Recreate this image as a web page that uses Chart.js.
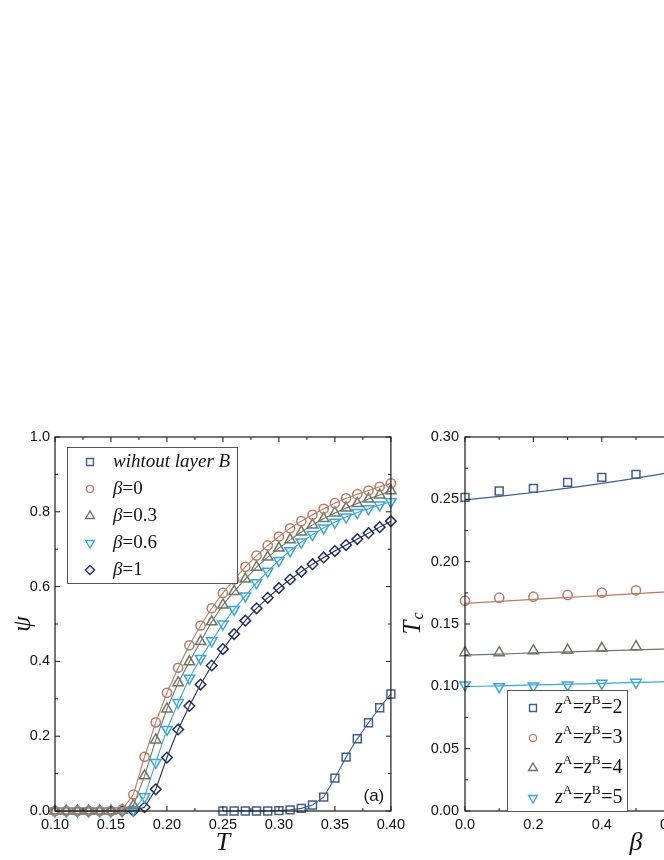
<!DOCTYPE html>
<html>
<head>
<meta charset="utf-8">
<script src="https://cdn.jsdelivr.net/npm/chart.js@4.4.0/dist/chart.umd.min.js"></script>
<style>
  html, body { margin: 0; padding: 0; background: #fff; overflow: hidden; }
  #wrap { position: relative; width: 664px; height: 860px; overflow: hidden; background: #fff; }
  #left { position: absolute; left: 0; top: 420px; }
  #right { position: absolute; left: 395px; top: 420px; }
</style>
</head>
<body>
<div id="wrap">
  <canvas id="left" width="410" height="440"></canvas>
  <canvas id="right" width="435" height="440"></canvas>
</div>
<script>
// ---- panel (a): order parameter psi vs temperature T ----
const temps = [0.10, 0.11, 0.12, 0.13, 0.14, 0.15, 0.16, 0.17, 0.18, 0.19, 0.20,
  0.21, 0.22, 0.23, 0.24, 0.25, 0.26, 0.27, 0.28, 0.29, 0.30,
  0.31, 0.32, 0.33, 0.34, 0.35, 0.36, 0.37, 0.38, 0.39, 0.40];
const tempsNoB = [0.25, 0.26, 0.27, 0.28, 0.29, 0.30, 0.31, 0.32,
  0.33, 0.34, 0.35, 0.36, 0.37, 0.38, 0.39, 0.40];

const psiNoB = [0, 0, 0, 0, 0, 0.001, 0.003, 0.007, 0.016, 0.037, 0.088, 0.144, 0.193, 0.236, 0.276, 0.313];
const psiBeta0 = [0, 0, 0, 0, 0, 0, 0.004, 0.044, 0.145, 0.237, 0.316,
  0.383, 0.443, 0.496, 0.542, 0.583, 0.619, 0.653, 0.683, 0.710, 0.734,
  0.756, 0.775, 0.792, 0.808, 0.823, 0.836, 0.847, 0.857, 0.867, 0.876];
const psiBeta03 = [0, 0, 0, 0, 0, 0, 0.002, 0.015, 0.094, 0.190, 0.273,
  0.343, 0.399, 0.453, 0.506, 0.551, 0.587, 0.620, 0.652, 0.679, 0.703,
  0.725, 0.746, 0.765, 0.782, 0.797, 0.810, 0.822, 0.834, 0.845, 0.856];
const psiBeta06 = [0, 0, 0, 0, 0, 0, 0, 0.003, 0.038, 0.130, 0.218,
  0.290, 0.355, 0.408, 0.455, 0.500, 0.539, 0.575, 0.610, 0.641, 0.670,
  0.696, 0.719, 0.739, 0.757, 0.772, 0.786, 0.798, 0.808, 0.818, 0.827];
const psiBeta1 = [0, 0, 0, 0, 0, 0, 0, 0, 0.010, 0.058, 0.143,
  0.218, 0.281, 0.338, 0.389, 0.433, 0.473, 0.509, 0.542, 0.570, 0.596,
  0.619, 0.640, 0.660, 0.678, 0.695, 0.711, 0.727, 0.743, 0.759, 0.775];

const leftLabels = ['wihtout layer B', 'β=0', 'β=0.3', 'β=0.6', 'β=1'];
const leftXTicks = [0.10, 0.15, 0.20, 0.25, 0.30, 0.35, 0.40];
const leftXTickLabels = ['0.10', '0.15', '0.20', '0.25', '0.30', '0.35', '0.40'];
const leftYTicks = [0, 0.2, 0.4, 0.6, 0.8, 1.0];
const leftYTickLabels = ['0.0', '0.2', '0.4', '0.6', '0.8', '1.0'];

// ---- panel (b): critical temperature Tc vs beta ----
const betas = [0, 0.1, 0.2, 0.3, 0.4, 0.5];
const tcZ2 = [0.2516, 0.2567, 0.2588, 0.2636, 0.2676, 0.2700];
const tcZ3 = [0.1687, 0.1711, 0.1719, 0.1733, 0.1751, 0.1770];
const tcZ4 = [0.1270, 0.1270, 0.1286, 0.1290, 0.1305, 0.1318];
const tcZ5 = [0.1011, 0.0997, 0.1003, 0.1011, 0.1024, 0.1032];

const fitBetas = [0, 0.1, 0.2, 0.3, 0.4, 0.5, 0.6, 0.7, 0.8, 0.9, 1.0];
const fitZ2 = [0.2495, 0.2524, 0.2555, 0.2590, 0.2628, 0.2670, 0.2716, 0.2765, 0.2818, 0.2875, 0.2935];
const fitZ3 = [0.1666, 0.1682, 0.1697, 0.1713, 0.1728, 0.1744, 0.1760, 0.1775, 0.1791, 0.1806, 0.1822];
const fitZ4 = [0.1251, 0.1259, 0.1268, 0.1276, 0.1284, 0.1293, 0.1301, 0.1310, 0.1318, 0.1327, 0.1335];
const fitZ5 = [0.0997, 0.1004, 0.1011, 0.1017, 0.1024, 0.1031, 0.1038, 0.1045, 0.1052, 0.1058, 0.1065];

const rightLabels = ['z^A=z^B=2', 'z^A=z^B=3', 'z^A=z^B=4', 'z^A=z^B=5'];
const rightXTicks = [0, 0.2, 0.4, 0.6, 0.8, 1.0];
const rightXTickLabels = ['0.0', '0.2', '0.4', '0.6', '0.8', '1.0'];
const rightYTicks = [0, 0.05, 0.10, 0.15, 0.20, 0.25, 0.30];
const rightYTickLabels = ['0.00', '0.05', '0.10', '0.15', '0.20', '0.25', '0.30'];

const COLORS = {
  steel: '#3e5f8f',
  brown: '#b97b62',
  olive: '#6f7563',
  sky: '#3aa6dd',
  navy: '#1f2f61',
  axis: '#1a1a1a',
};

const SANS = "'Liberation Sans', Arial, sans-serif";
const SERIF = "'Liberation Serif', 'Times New Roman', serif";

// legend symbols are a bit smaller than the plotted ones
const LEGEND_R = { circle: 3.6, rect: 4.9, triangle: 5, rectRot: 4.6 };

// marker used in the hand drawn legends, same geometry as Chart.js point styles
function drawMarker(ctx, style, rot, x, y, r, color) {
  ctx.save();
  ctx.translate(x, y);
  ctx.rotate(rot * Math.PI / 180);
  ctx.strokeStyle = color;
  ctx.lineWidth = 1.4;
  ctx.beginPath();
  if (style === 'circle') {
    ctx.arc(0, 0, r, 0, Math.PI * 2);
  } else if (style === 'rect') {
    const s = r * Math.SQRT1_2;
    ctx.rect(-s, -s, 2 * s, 2 * s);
  } else if (style === 'rectRot') {
    ctx.moveTo(0, -r); ctx.lineTo(r, 0); ctx.lineTo(0, r); ctx.lineTo(-r, 0);
    ctx.closePath();
  } else if (style === 'triangle') {
    for (let k = 0; k < 3; k++) {
      const a = k * 2 * Math.PI / 3;
      ctx.lineTo(Math.sin(a) * r, -Math.cos(a) * r);
    }
    ctx.closePath();
  }
  ctx.stroke();
  ctx.restore();
}

// letters italic, '^X' = upright superscript, digits and '=' upright
function drawRich(ctx, text, x, y, size) {
  let cx = x;
  ctx.textBaseline = 'middle';
  ctx.textAlign = 'left';
  ctx.fillStyle = '#111';
  for (let i = 0; i < text.length; i++) {
    let ch = text[i];
    let sup = false;
    if (ch === '^') { sup = true; ch = text[++i]; }
    const italic = !sup && /[A-Za-z\u03b1-\u03c9 ]/.test(ch);
    const fs = sup ? size * 0.66 : size;
    ctx.font = (italic ? 'italic ' : '') + fs + 'px ' + SERIF;
    const dy = sup ? -size * 0.36 : 0;
    ctx.fillText(ch, cx, y + dy);
    cx += ctx.measureText(ch).width + (sup ? 0.5 : 0);
  }
}

const richLegend = {
  id: 'richLegend',
  afterDraw(chart, args, o) {
    const { ctx, chartArea: a } = chart;
    const items = chart.data.datasets.filter(d => !d.label.startsWith('_'));
    const bx = a.left + o.dx;
    const by = o.fromBottom ? a.bottom - o.h : a.top + o.dy;
    ctx.save();
    ctx.fillStyle = '#fff';
    ctx.fillRect(bx, by, o.w, o.h);
    ctx.strokeStyle = '#555';
    ctx.lineWidth = 1;
    ctx.strokeRect(Math.round(bx) + 0.5, Math.round(by) + 0.5, o.w, o.h);
    items.forEach((d, i) => {
      const y = by + o.first + i * o.gap;
      drawMarker(ctx, d.pointStyle, d.pointRotation || 0, bx + o.markerX, y, LEGEND_R[d.pointStyle], d.borderColor);
      drawRich(ctx, d.label, bx + o.textX, y, o.size);
    });
    ctx.restore();
  },
};

// box frame with inward ticks on all four sides, plus extra texts
const frame = {
  id: 'frame',
  afterDraw(chart, args, o) {
    const { ctx, chartArea: a, scales: { x, y } } = chart;
    ctx.save();
    ctx.strokeStyle = COLORS.axis;
    ctx.lineWidth = 1.2;
    ctx.strokeRect(a.left, a.top, a.right - a.left, a.bottom - a.top);
    ctx.lineWidth = 1;
    ctx.beginPath();
    const mark = (scale, v, len) => {
      const p = scale.getPixelForValue(v);
      if (scale === x) {
        ctx.moveTo(p, a.bottom); ctx.lineTo(p, a.bottom - len);
        ctx.moveTo(p, a.top); ctx.lineTo(p, a.top + len);
      } else {
        ctx.moveTo(a.left, p); ctx.lineTo(a.left + len, p);
        ctx.moveTo(a.right, p); ctx.lineTo(a.right - len, p);
      }
    };
    [x, y].forEach(scale => {
      const t = scale.ticks.map(k => k.value);
      t.forEach((v, i) => {
        mark(scale, v, 5);
        if (i < t.length - 1) mark(scale, (v + t[i + 1]) / 2, 3);
      });
    });
    ctx.stroke();

    if (o.tag) {
      ctx.fillStyle = '#111';
      ctx.font = '17px ' + SANS;
      ctx.textAlign = 'center';
      ctx.textBaseline = 'middle';
      ctx.fillText(o.tag, a.right - 17, a.bottom - 15);
    }
    if (o.yTitle) {
      ctx.fillStyle = '#111';
      ctx.translate(o.yTitleX, (a.top + a.bottom) / 2);
      ctx.rotate(-Math.PI / 2);
      ctx.textBaseline = 'middle';
      ctx.textAlign = 'left';
      ctx.font = 'italic 16px ' + SERIF;
      const sw = ctx.measureText(o.ySub).width;
      ctx.font = 'italic 25px ' + SERIF;
      const w = ctx.measureText(o.yTitle).width;
      const x0 = -(w + sw) / 2;
      ctx.fillText(o.yTitle, x0, 0);
      ctx.font = 'italic 16px ' + SERIF;
      ctx.fillText(o.ySub, x0 + w + 1, 6);
    }
    ctx.restore();
  },
};

function series(label, xs, ys, color, style, radius, rot, line) {
  return {
    label,
    data: xs.map((v, i) => ({ x: v, y: ys[i] })),
    showLine: line,
    borderColor: color,
    backgroundColor: 'transparent',
    borderWidth: 1.1,
    pointStyle: style,
    pointRadius: radius,
    pointRotation: rot,
    pointBorderWidth: 1.5,
    pointBorderColor: color,
    pointBackgroundColor: 'transparent',
    clip: false,
  };
}

function fitLine(label, xs, ys, color) {
  return {
    label,
    data: xs.map((v, i) => ({ x: v, y: ys[i] })),
    showLine: true,
    borderColor: color,
    borderWidth: 1.2,
    pointRadius: 0,
    tension: 0.3,
    clip: false,
  };
}

const tickFont = { family: SANS, size: 14.5 };
const titleFont = { family: SERIF, style: 'italic', size: 26 };

function axis(min, max, ticks, labels, fit, horizontal, padding) {
  return {
    type: 'linear',
    min, max,
    afterBuildTicks: s => { s.ticks = ticks.map(v => ({ value: v })); },
    afterFit: s => { if (horizontal) s.height = fit; else s.width = fit; },
    grid: { display: false, drawTicks: false },
    border: { display: false },
    ticks: {
      callback: (v, i) => labels[i],
      font: tickFont,
      color: '#111',
      padding,
      maxRotation: 0,
      autoSkip: false,
    },
  };
}

const base = {
  responsive: false,
  animation: false,
  devicePixelRatio: 1,
  events: [],
};

new Chart(document.getElementById('left'), {
  type: 'scatter',
  data: {
    datasets: [
      series(leftLabels[0], tempsNoB, psiNoB, COLORS.steel, 'rect', 5.6, 0, true),
      series(leftLabels[1], temps, psiBeta0, COLORS.brown, 'circle', 4.6, 0, true),
      series(leftLabels[2], temps, psiBeta03, COLORS.olive, 'triangle', 6, 0, true),
      series(leftLabels[3], temps, psiBeta06, COLORS.sky, 'triangle', 6, 180, true),
      series(leftLabels[4], temps, psiBeta1, COLORS.navy, 'rectRot', 5.3, 0, true),
    ],
  },
  options: {
    ...base,
    layout: { padding: { top: 17, right: 16, left: 0, bottom: 0 } },
    plugins: {
      legend: { display: false },
      tooltip: { enabled: false },
      richLegend: { dx: 12, dy: 10, w: 170, h: 136, first: 15, gap: 27, markerX: 23, textX: 46, size: 19 },
      frame: { tag: '(a)' },
    },
    scales: {
      x: {
        ...axis(0.10, 0.40, leftXTicks, leftXTickLabels, 49, true, 5),
        title: { display: true, text: 'T', font: titleFont, color: '#111', padding: { top: 0, bottom: 1 } },
      },
      y: {
        ...axis(0, 1.0, leftYTicks, leftYTickLabels, 55, false, 5),
        title: { display: true, text: 'ψ', font: { ...titleFont, size: 25 }, color: '#111', padding: { top: 8, bottom: 0 } },
      },
    },
  },
  plugins: [frame, richLegend],
});

new Chart(document.getElementById('right'), {
  type: 'scatter',
  data: {
    datasets: [
      series(rightLabels[0], betas, tcZ2, COLORS.steel, 'rect', 5.6, 0, false),
      series(rightLabels[1], betas, tcZ3, COLORS.brown, 'circle', 4.6, 0, false),
      series(rightLabels[2], betas, tcZ4, COLORS.olive, 'triangle', 6, 0, false),
      series(rightLabels[3], betas, tcZ5, COLORS.sky, 'triangle', 6, 180, false),
      fitLine('_fit2', fitBetas, fitZ2, COLORS.steel),
      fitLine('_fit3', fitBetas, fitZ3, COLORS.brown),
      fitLine('_fit4', fitBetas, fitZ4, COLORS.olive),
      fitLine('_fit5', fitBetas, fitZ5, COLORS.sky),
    ],
  },
  options: {
    ...base,
    layout: { padding: { top: 17, right: 23, left: 0, bottom: 0 } },
    plugins: {
      legend: { display: false },
      tooltip: { enabled: false },
      richLegend: { dx: 42, fromBottom: true, w: 120, h: 121, first: 18, gap: 30, markerX: 26, textX: 48, size: 20 },
      frame: { yTitle: 'T', ySub: 'c', yTitleX: 18 },
    },
    scales: {
      x: {
        ...axis(0, 1.0, rightXTicks, rightXTickLabels, 49, true, 5),
        title: { display: true, text: 'β', font: titleFont, color: '#111', padding: { top: 0, bottom: 1 } },
      },
      y: axis(0, 0.30, rightYTicks, rightYTickLabels, 70, false, 6),
    },
  },
  plugins: [frame, richLegend],
});
</script>
</body>
</html>
